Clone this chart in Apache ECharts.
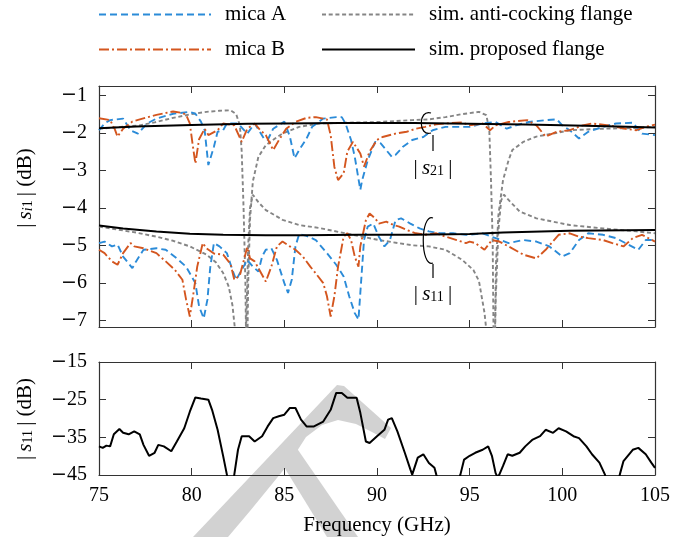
<!DOCTYPE html>
<html>
<head>
<meta charset="utf-8">
<script src="https://cdn.jsdelivr.net/npm/echarts@6/dist/echarts.min.js"></script>
<style>
  html, body { margin: 0; padding: 0; background: #fff; }
  #main { width: 697px; height: 537px; }
</style>
</head>
<body>
<div id="main"></div>
<script>
// frequency in GHz, magnitude in dB
const micaAS21 = [[75,-1.93],[75.3,-1.75],[75.6,-1.66],[76.3,-1.62],[76.7,-1.93],[77.1,-2.02],[77.6,-1.75],[78.1,-1.62],[79,-1.49],[79.9,-1.44],[80.2,-1.49],[80.5,-1.7],[80.7,-1.93],[80.9,-2.86],[81.2,-2.37],[81.4,-1.97],[81.7,-1.93],[81.9,-1.75],[82.5,-1.75],[83.0,-2.02],[83.4,-1.75],[83.9,-2.15],[84.1,-2.19],[84.4,-1.89],[85.0,-1.7],[85.3,-2.1],[85.55,-2.68],[85.8,-2.46],[86.2,-2.15],[86.5,-1.84],[87.1,-1.62],[87.8,-1.58],[88.1,-1.58],[88.3,-1.75],[88.6,-2.19],[88.8,-2.64],[89.1,-3.52],[89.2,-3.26],[89.5,-2.73],[89.9,-2.24],[90.2,-2.28],[90.5,-2.46],[90.8,-2.64],[91.0,-2.59],[91.4,-2.37],[91.9,-2.19],[92.5,-2.11],[93.0,-1.93],[93.7,-1.84],[94.6,-1.84],[95.0,-1.84],[95.7,-1.75],[96.4,-1.71],[97,-1.89],[97.5,-1.8],[98.2,-1.71],[99.1,-1.66],[99.7,-1.64],[100,-1.8],[100.4,-1.93],[100.9,-2.15],[101.4,-1.97],[102.2,-1.84],[102.9,-1.75],[103.8,-1.73],[104.3,-2.02],[105,-2.06]];
const micaBS21 = [[75,-1.61],[75.6,-1.66],[75.85,-1.9],[76.0,-2.1],[76.3,-1.89],[76.8,-1.7],[77.5,-1.6],[78.1,-1.52],[79,-1.43],[79.5,-1.47],[79.7,-1.52],[79.9,-1.75],[80.05,-2.3],[80.2,-2.82],[80.4,-2.17],[80.7,-1.89],[80.9,-2.06],[81.4,-1.93],[81.7,-1.75],[82.3,-1.8],[82.7,-2.24],[83.0,-1.89],[83.4,-1.75],[83.7,-1.93],[84.0,-2.06],[84.4,-2.46],[84.7,-2.2],[85.1,-1.89],[85.6,-1.71],[86.2,-1.6],[86.7,-1.58],[87.3,-1.64],[87.5,-2.06],[87.7,-2.91],[87.9,-3.26],[88.2,-3.08],[88.4,-2.5],[88.7,-2.24],[89.1,-2.55],[89.3,-2.9],[89.6,-2.5],[90.0,-2.19],[90.3,-2.11],[91.0,-2.02],[91.6,-1.97],[92.1,-1.89],[92.6,-1.84],[93.2,-1.77],[93.7,-1.75],[94.6,-1.72],[95.0,-1.8],[95.7,-1.75],[96.1,-1.93],[96.4,-1.8],[97.1,-1.71],[98.1,-1.66],[98.6,-1.8],[99.1,-2.1],[99.7,-1.97],[100.4,-1.93],[101.1,-1.8],[101.6,-1.75],[102.5,-1.8],[103.4,-1.89],[104,-1.93],[104.5,-1.84],[105,-1.78]];
const antiS21 = [[75,-1.89],[76,-1.85],[77.2,-1.8],[78,-1.72],[79,-1.6],[80,-1.5],[80.8,-1.44],[81.5,-1.41],[82.1,-1.4],[82.4,-1.5],[82.6,-1.8],[82.7,-2.5],[82.8,-4.0],[82.9,-6.0],[82.97,-9],[83.05,-6.0],[83.15,-4.3],[83.3,-3.3],[83.6,-2.64],[84.0,-2.33],[84.5,-2.15],[84.9,-2.02],[85.8,-1.84],[86.9,-1.75],[88.3,-1.73],[90.1,-1.71],[91.9,-1.66],[92.8,-1.64],[93.7,-1.58],[94.6,-1.5],[95.5,-1.44],[95.9,-1.53],[96.06,-1.93],[96.15,-3.26],[96.24,-4.86],[96.32,-9],[96.42,-5.5],[96.55,-4.2],[96.8,-3.26],[97.1,-2.73],[97.3,-2.46],[97.9,-2.24],[98.6,-2.1],[99.5,-2.02],[100.4,-1.93],[102.2,-1.89],[104,-1.87],[105,-1.84]];
const propS21 = [[75,-1.88],[77,-1.83],[80,-1.79],[83,-1.76],[85,-1.75],[88,-1.74],[92,-1.74],[95,-1.76],[98,-1.78],[100,-1.8],[103,-1.83],[105,-1.86]];

const micaAS11 = [[75,-4.94],[75.3,-4.9],[75.7,-5.03],[76.0,-4.98],[76.3,-5.3],[76.8,-5.61],[77.0,-5.43],[77.4,-5.12],[78.1,-5.08],[78.6,-5.12],[79.2,-5.35],[79.7,-5.57],[80.2,-6.01],[80.4,-6.63],[80.65,-6.95],[80.85,-6.45],[81.0,-5.6],[81.2,-4.94],[81.5,-5.03],[81.9,-5.21],[82.2,-5.66],[82.4,-5.92],[82.8,-5.57],[83.0,-5.39],[83.3,-5.57],[83.6,-5.7],[83.8,-5.3],[84.0,-5.12],[84.3,-5.08],[84.6,-5.39],[85.0,-6.01],[85.2,-6.27],[85.4,-5.92],[85.6,-5.03],[85.8,-4.7],[86.2,-4.75],[86.7,-4.86],[87.3,-5.21],[87.8,-5.52],[88.2,-5.83],[88.5,-6.36],[88.8,-6.81],[89.0,-6.98],[89.1,-6.27],[89.3,-4.86],[89.5,-4.5],[89.8,-4.42],[90.1,-4.77],[90.4,-5.03],[90.7,-4.86],[91.0,-4.33],[91.3,-4.28],[91.8,-4.42],[92.3,-4.55],[92.8,-4.63],[93.4,-4.68],[94.1,-4.68],[94.8,-4.72],[95.0,-4.72],[95.7,-4.68],[96.4,-4.81],[97.1,-4.94],[97.9,-4.86],[98.6,-4.9],[99.3,-5.03],[100,-5.3],[100.4,-5.21],[100.9,-4.86],[101.4,-4.68],[102.2,-4.72],[102.9,-4.81],[103.4,-4.94],[104.1,-5.12],[104.5,-4.86],[105,-4.86]];
const micaBS11 = [[75,-5.12],[75.3,-5.21],[75.7,-5.43],[76.0,-5.52],[76.3,-5.21],[76.7,-4.94],[76.9,-5.03],[77.4,-5.08],[78.1,-5.21],[78.6,-5.43],[79.1,-5.66],[79.5,-5.92],[79.7,-6.45],[79.9,-6.9],[80.1,-6.27],[80.3,-5.57],[80.6,-4.94],[80.8,-5.08],[81.2,-5.22],[81.7,-5.25],[82.1,-5.5],[82.3,-5.92],[82.6,-5.8],[83.0,-5.05],[83.15,-5.35],[83.4,-5.43],[83.7,-5.7],[84.0,-5.97],[84.3,-5.57],[84.6,-5.03],[84.9,-4.9],[85.3,-5.03],[85.6,-5.12],[86.0,-5.3],[86.4,-5.57],[86.7,-5.75],[87.1,-6.01],[87.3,-6.36],[87.5,-6.9],[87.7,-6.36],[87.9,-5.57],[88.2,-4.77],[88.4,-4.68],[88.6,-4.86],[88.8,-5.3],[89.0,-5.57],[89.1,-5.03],[89.4,-4.33],[89.6,-4.15],[89.9,-4.28],[90.1,-4.42],[90.5,-4.37],[90.9,-4.46],[91.2,-4.5],[91.6,-4.59],[92.1,-4.68],[92.6,-4.72],[93.2,-4.68],[93.7,-4.77],[94.3,-4.86],[94.8,-4.94],[95.0,-4.9],[95.3,-4.94],[95.8,-5.12],[96.2,-4.86],[96.6,-4.9],[97.1,-5.03],[97.9,-5.25],[98.6,-5.35],[99.1,-5.12],[99.8,-4.72],[100.4,-4.68],[100.9,-4.77],[101.4,-4.81],[102.2,-4.86],[102.7,-4.94],[103.3,-5.03],[103.8,-4.81],[104.3,-4.72],[105,-4.9]];
const antiS11 = [[75,-4.5],[76,-4.58],[77,-4.66],[78.1,-4.77],[79,-4.88],[79.9,-5.03],[80.8,-5.25],[81.3,-5.45],[81.7,-5.74],[82.0,-6.1],[82.2,-6.6],[82.35,-7.3],[82.6,-9.5],[82.85,-9.5],[82.95,-7.0],[83.05,-5.0],[83.15,-4.0],[83.3,-3.65],[83.6,-3.85],[84.0,-4.06],[84.9,-4.32],[85.8,-4.46],[86.9,-4.54],[88.3,-4.68],[90.1,-4.86],[91.9,-5.0],[92.8,-5.03],[93.7,-5.12],[94.6,-5.39],[95.2,-5.66],[95.5,-5.95],[95.8,-6.8],[95.95,-7.5],[96.1,-9.5],[96.3,-9.5],[96.4,-6.5],[96.55,-4.6],[96.7,-3.8],[96.85,-3.65],[97.0,-3.74],[97.7,-4.1],[98.6,-4.28],[100.4,-4.46],[102.2,-4.55],[104,-4.63],[105,-4.68]];
const propS11 = [[75,-4.47],[76.3,-4.55],[78.1,-4.63],[79.9,-4.69],[81.7,-4.72],[84,-4.73],[86,-4.73],[89,-4.72],[92,-4.72],[95,-4.7],[96.8,-4.66],[100.4,-4.61],[105,-4.59]];

// lower panel |s11| (dB)
const measS11 = [[75,-37.4],[75.2,-37.8],[75.4,-37.2],[75.6,-37.4],[75.8,-34.2],[76.1,-32.8],[76.3,-33.8],[76.6,-34.2],[76.9,-33.4],[77.2,-34.2],[77.4,-37.0],[77.7,-39.9],[78.0,-39.1],[78.2,-37.0],[78.5,-37.4],[78.9,-38.7],[79.2,-36.1],[79.6,-32.6],[79.9,-28.2],[80.2,-24.4],[80.5,-24.7],[80.9,-25.0],[81.1,-27.7],[81.4,-33.0],[81.7,-40.0],[81.9,-44.9],[82.05,-48],[82.2,-48],[82.3,-44.9],[82.5,-38.3],[82.7,-34.7],[83.1,-34.7],[83.4,-36.1],[83.8,-34.7],[84.1,-32.1],[84.4,-29.9],[84.7,-29.4],[85.0,-29.0],[85.3,-27.2],[85.6,-27.2],[85.9,-30.3],[86.2,-32.1],[86.6,-32.1],[87.1,-30.8],[87.5,-27.7],[87.8,-23.2],[88.1,-23.2],[88.4,-24.5],[88.9,-24.5],[89.1,-28.5],[89.4,-36.1],[89.6,-36.5],[90.0,-34.7],[90.4,-33.0],[90.6,-30.3],[90.8,-29.9],[91.1,-33.4],[91.5,-39.1],[91.8,-43.5],[91.9,-44.9],[92.0,-44.5],[92.2,-40.4],[92.5,-39.5],[92.8,-41.8],[93.1,-43.1],[93.2,-44.9],[93.5,-50],[94.2,-50],[94.5,-44.9],[94.7,-40.9],[95.0,-39.9],[95.3,-39.1],[95.7,-38.3],[96.0,-37.4],[96.2,-39.9],[96.4,-44.5],[96.5,-45.5],[96.6,-44.9],[96.8,-42.6],[97.05,-39.5],[97.3,-39.9],[97.7,-39.1],[98.0,-37.4],[98.4,-35.6],[98.8,-34.7],[99.1,-33.0],[99.5,-33.8],[99.8,-32.6],[100.2,-33.4],[100.6,-34.7],[100.9,-35.2],[101.3,-37.4],[101.6,-39.5],[102.0,-41.7],[102.3,-44.9],[102.6,-50],[102.9,-50],[103.1,-44.9],[103.3,-41.3],[103.8,-38.3],[104.1,-37.8],[104.5,-39.5],[104.8,-41.7],[105,-43.1]];

const freqTicks = [75, 80, 85, 90, 95, 100, 105];
const topTicks = [-7, -6, -5, -4, -3, -2, -1];
const bottomTicks = [-45, -35, -25, -15];

const chartDom = document.getElementById('main');
const myChart = echarts.init(chartDom);
const serif = 'Liberation Serif';
const axisColor = '#333';
// wide minus like the TeX one
const minus = v => (v < 0 ? '{m|\u2212}' + Math.abs(v) : String(v));

const blueStyle = { color: '#2b8bd8', width: 1.9, type: [7, 4] };
const orangeStyle = { color: '#d4561f', width: 1.9, type: [10, 3, 2, 3] };
const greyStyle = { color: '#858585', width: 1.9, type: [4, 2.7] };
const blackStyle = { color: '#000', width: 2, type: 'solid' };

function frameX(gridIndex, position, showLabel, name) {
  return {
    type: 'value', gridIndex: gridIndex, position: position,
    min: 75, max: 105, interval: 5,
    axisLine: { show: true, onZero: false, lineStyle: { color: axisColor, width: 1.2 } },
    axisTick: { show: true, inside: true, length: 7, lineStyle: { color: axisColor } },
    axisLabel: { show: showLabel, margin: 11, fontFamily: serif, fontSize: 20, color: '#000' },
    splitLine: { show: false },
    name: name || '', nameLocation: 'middle', nameGap: 40,
    nameTextStyle: { fontFamily: serif, fontSize: 21, color: '#000' }
  };
}
function frameY(gridIndex, position, showLabel, min, max, ticks) {
  return {
    type: 'value', gridIndex: gridIndex, position: position,
    min: min, max: max,
    axisLine: { show: true, onZero: false, lineStyle: { color: axisColor, width: 1.2 } },
    axisTick: { show: true, inside: true, length: 7, customValues: ticks, lineStyle: { color: axisColor } },
    axisLabel: { show: showLabel, margin: 12, customValues: ticks, formatter: minus,
                 fontFamily: serif, fontSize: 20, color: '#000',
                 rich: { m: { fontFamily: 'DejaVu Serif', fontSize: 19, color: '#000' } } },
    splitLine: { show: false }
  };
}
function line(name, data, style, xi, yi, z) {
  return { name: name, type: 'line', data: data, xAxisIndex: xi, yAxisIndex: yi,
           symbol: 'none', showSymbol: false, lineStyle: style, itemStyle: { color: style.color },
           z: z, clip: true };
}
function legendItem(name, left, top, width) {
  return { data: [name], left: left, top: top, padding: 0, itemWidth: width, itemHeight: 14,
           textStyle: { fontFamily: serif, fontSize: 21, color: '#000', padding: [0, 0, 0, 9] },
           selectedMode: false, itemStyle: { opacity: 0 } };
}

const markerStyle = { stroke: '#000', lineWidth: 1.2, fill: null };
const rich = {
  s: { fontFamily: serif, fontStyle: 'italic', fontSize: 21, lineHeight: 20 },
  si: { fontFamily: serif, fontStyle: 'italic', fontSize: 14, lineHeight: 9, verticalAlign: 'bottom' },
  sn: { fontFamily: serif, fontSize: 14, lineHeight: 9, verticalAlign: 'bottom' }
};

let option = {
  animation: false,
  backgroundColor: '#fff',
  legend: [
    legendItem('mica A', 98, 4, 112),
    legendItem('sim. anti-cocking flange', 321, 4, 93),
    legendItem('mica B', 98, 39, 112),
    legendItem('sim. proposed flange', 321, 39, 93)
  ],
  grid: [
    { left: 99, top: 86, width: 556, height: 241 },
    { left: 99, top: 362, width: 556, height: 113 }
  ],
  xAxis: [
    frameX(0, 'bottom', false), frameX(0, 'top', false),
    frameX(1, 'bottom', true, 'Frequency (GHz)'), frameX(1, 'top', false)
  ],
  yAxis: [
    frameY(0, 'left', true, -7.18, -0.75, topTicks), frameY(0, 'right', false, -7.18, -0.75, topTicks),
    frameY(1, 'left', true, -45, -15, bottomTicks), frameY(1, 'right', false, -45, -15, bottomTicks)
  ],
  series: [
    line('sim. anti-cocking flange', antiS21, greyStyle, 0, 0, 2),
    line('sim. anti-cocking flange', antiS11, greyStyle, 0, 0, 2),
    line('mica A', micaAS21, blueStyle, 0, 0, 3),
    line('mica A', micaAS11, blueStyle, 0, 0, 3),
    line('mica B', micaBS21, orangeStyle, 0, 0, 4),
    line('mica B', micaBS11, orangeStyle, 0, 0, 4),
    line('sim. proposed flange', propS21, blackStyle, 0, 0, 5),
    line('sim. proposed flange', propS11, blackStyle, 0, 0, 5),
    line('measured', measS11, { color: '#000', width: 2, type: 'solid' }, 2, 2, 5)
  ],
  graphic: [
    // faint watermark behind the plot
    { type: 'polygon', z: -1, silent: true,
      shape: { points: [[193, 537], [337, 385], [344, 386], [391, 428], [385, 439], [372, 432], [356, 424], [338, 420], [322, 425], [306, 437], [290, 462], [250, 511], [228, 537]] },
      style: { fill: '#d2d2d2' } },
    { type: 'polygon', z: -1, silent: true,
      shape: { points: [[281, 462], [296, 447], [358, 537], [327, 537]] },
      style: { fill: '#d2d2d2' } },
    // |s21| marker
    { type: 'bezierCurve', z: 20, shape: { x1: 431, y1: 113, cpx1: 418, cpy1: 109, cpx2: 418, cpy2: 137, x2: 431, y2: 133 }, style: markerStyle },
    { type: 'line', z: 20, shape: { x1: 433, y1: 135, x2: 433, y2: 151 }, style: markerStyle },
    { type: 'text', z: 20, x: 433, y: 168,
      style: { text: '|\u2009{s|s}{sn|21}\u2009|', rich: rich, fontFamily: serif, fontSize: 21, fill: '#000', align: 'center', verticalAlign: 'middle' } },
    // |s11| marker
    { type: 'bezierCurve', z: 20, shape: { x1: 433, y1: 218, cpx1: 420, cpy1: 213, cpx2: 420, cpy2: 268, x2: 433, y2: 263 }, style: markerStyle },
    { type: 'line', z: 20, shape: { x1: 433, y1: 264, x2: 433, y2: 278 }, style: markerStyle },
    { type: 'text', z: 20, x: 433, y: 294,
      style: { text: '|\u2009{s|s}{sn|11}\u2009|', rich: rich, fontFamily: serif, fontSize: 21, fill: '#000', align: 'center', verticalAlign: 'middle' } },
    // y axis titles
    { type: 'text', z: 20, x: 25, y: 188, rotation: Math.PI / 2,
      style: { text: '|\u2009{s|s}{si|i}{sn|1}\u2009| (dB)', rich: rich, fontFamily: serif, fontSize: 21, fill: '#000', align: 'center', verticalAlign: 'middle' } },
    { type: 'text', z: 20, x: 25, y: 419, rotation: Math.PI / 2,
      style: { text: '|\u2009{s|s}{sn|11}\u2009| (dB)', rich: rich, fontFamily: serif, fontSize: 21, fill: '#000', align: 'center', verticalAlign: 'middle' } }
  ]
};

option && myChart.setOption(option);
</script>
</body>
</html>
